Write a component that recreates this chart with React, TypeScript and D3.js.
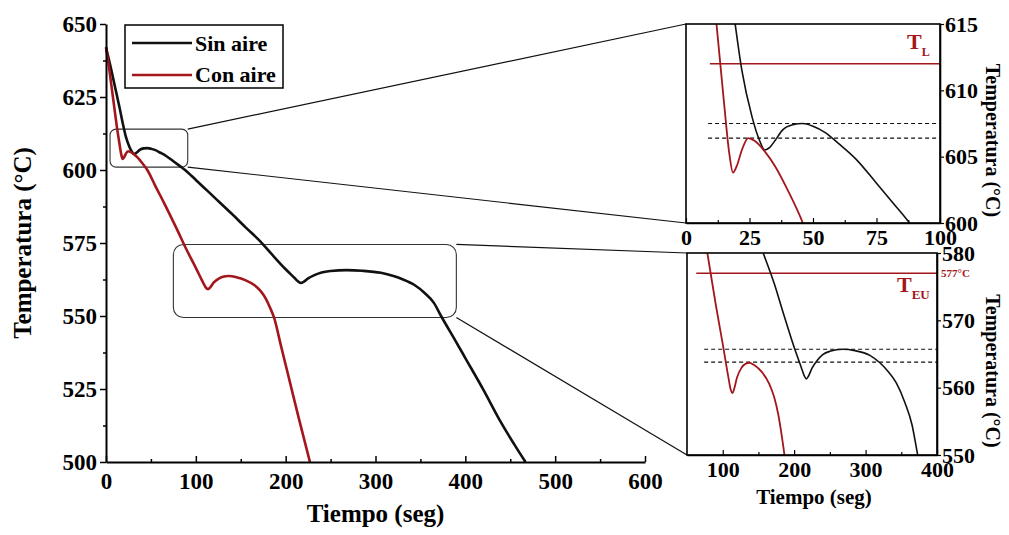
import { useEffect, useRef } from 'react'
import * as d3 from 'd3'

// Sin aire (black) cooling curve: time (s) / temperature (°C)
const sinAireTime = [0, 5, 10, 15, 19, 22, 26, 29, 31, 33, 35, 38, 42, 46, 50, 55, 60, 67, 75, 82, 88, 100, 120, 140, 156, 172, 185, 200, 210, 214, 217, 220, 225, 232, 240, 250, 268, 285, 306, 320, 330, 343, 355, 365, 373, 390, 400, 420, 440, 455, 467]
const sinAireTemp = [642, 635.5, 628.5, 621.5, 615.5, 611.5, 608, 606.2, 605.5, 605.7, 606.2, 607, 607.4, 607.5, 607.3, 606.8, 606, 604.8, 603, 601.4, 600, 596.6, 590.8, 585, 580.2, 575.5, 571, 566, 563, 561.8, 561.3, 561.7, 562.9, 564, 564.9, 565.4, 565.7, 565.5, 564.8, 563.7, 562.6, 560.7, 557.8, 554.5, 550, 541, 535.6, 524.8, 513.4, 505.8, 500]

// Con aire (red) cooling curve
const conAireTime = [0, 3, 6, 9, 12, 15, 17, 18.5, 20, 22, 24.5, 27, 31, 35, 40, 46, 55, 65, 78.5, 90, 100, 108, 111, 113.6, 116, 120, 126, 133, 137, 145, 155, 165, 172, 178, 183, 187, 195, 205, 215, 227]
const conAireTemp = [642, 636, 629, 622, 615, 609, 605.3, 603.8, 604.3, 605.5, 606.4, 606.2, 605.4, 604.3, 602.5, 600, 594.5, 588.5, 580, 572.5, 566.5, 561.5, 559.8, 559.2, 559.8, 561.5, 562.9, 563.6, 563.7, 563.3, 562.3, 560.6, 558.6, 555.9, 552.6, 549.5, 539.5, 527, 514.5, 500]

const mainXTicks = [0, 100, 200, 300, 400, 500, 600]
const mainXMinor = [50, 150, 250, 350, 450, 550]
const mainYTicks = [500, 525, 550, 575, 600, 625, 650]
const mainYMinor = [512.5, 537.5, 562.5, 587.5, 612.5, 637.5]

const topXTicks = [0, 25, 50, 75, 100]
const topXMinor = [12.5, 37.5, 62.5, 87.5]
const topYTicks = [600, 605, 610, 615]
const bottomXTicks = [100, 200, 300, 400]
const bottomXMinor = [150, 250, 350]
const bottomYTicks = [550, 560, 570, 580]

const liquidusTemp = 612
const eutecticTemp = 577
const topDashed = [607.5, 606.4]
const bottomDashed = [565.7, 563.8]
// zoom windows drawn on the main chart: [t0, t1, T0, T1]
const zoomBox1 = [4.5, 91, 601, 614]
const zoomBox2 = [75, 390, 549.5, 574.5]

const RED = '#a3161b'
const FONT = '"Liberation Serif", "Times New Roman", serif'

export default function App() {
  const svgRef = useRef<SVGSVGElement>(null)

  useEffect(() => {
    if (!svgRef.current) return
    const svg = d3.select(svgRef.current)
    svg.selectAll('*').remove()

    const sin = sinAireTime.map((t, i) => [t, sinAireTemp[i]] as [number, number])
    const con = conAireTime.map((t, i) => [t, conAireTemp[i]] as [number, number])

    const styleAxis = (g: any, size: number, width = 2) => {
      g.select('.domain').attr('stroke', '#000').attr('stroke-width', width)
      g.selectAll('.tick line').attr('stroke', '#000').attr('stroke-width', width * 0.75)
      g.selectAll('.tick text')
        .attr('fill', '#000')
        .attr('font-family', FONT)
        .attr('font-weight', 'bold')
        .attr('font-size', size)
    }

    // ---------- main chart ----------
    const x = d3.scaleLinear().domain([0, 600]).range([106, 645])
    const y = d3.scaleLinear().domain([500, 650]).range([462, 24])

    const main = svg.append('g')

    // zoom boxes
    ;[zoomBox1, zoomBox2].forEach((b, i) => {
      main.append('rect')
        .attr('x', x(b[0])).attr('y', y(b[3]))
        .attr('width', x(b[1]) - x(b[0])).attr('height', y(b[2]) - y(b[3]))
        .attr('rx', i === 0 ? 6 : 10)
        .attr('fill', 'none').attr('stroke', '#333').attr('stroke-width', 1.1)
    })

    const line = d3.line<[number, number]>().x(d => x(d[0])).y(d => y(d[1])).curve(d3.curveMonotoneX)
    main.append('path').datum(sin).attr('d', line).attr('fill', 'none').attr('stroke', '#111').attr('stroke-width', 2.6)
    main.append('path').datum(con).attr('d', line).attr('fill', 'none').attr('stroke', RED).attr('stroke-width', 2.6)

    const gy = main.append('g').attr('transform', `translate(${x(0)},0)`)
      .call(d3.axisLeft(y).tickValues(mainYTicks).tickSize(6).tickSizeOuter(0).tickPadding(3))
    styleAxis(gy, 23)
    main.append('g').attr('transform', `translate(${x(0)},0)`)
      .call(d3.axisLeft(y).tickValues(mainYMinor).tickSize(3).tickFormat(() => ''))
      .call((g: any) => { g.select('.domain').remove(); g.selectAll('line').attr('stroke-width', 1.5) })

    const gx = main.append('g').attr('transform', `translate(0,${y(500)})`)
      .call(d3.axisBottom(x).tickValues(mainXTicks).tickSize(-6).tickSizeOuter(0).tickPadding(11))
    styleAxis(gx, 23)
    main.append('g').attr('transform', `translate(0,${y(500)})`)
      .call(d3.axisBottom(x).tickValues(mainXMinor).tickSize(-3).tickFormat(() => ''))
      .call((g: any) => { g.select('.domain').remove(); g.selectAll('line').attr('stroke-width', 1.5) })

    main.append('text')
      .attr('transform', `translate(31,${(y(500) + y(650)) / 2}) rotate(-90)`)
      .attr('text-anchor', 'middle')
      .attr('fill', '#000')
      .attr('font-family', FONT).attr('font-weight', 'bold').attr('font-size', 25)
      .text('Temperatura (°C)')
    main.append('text')
      .attr('x', (x(0) + x(600)) / 2).attr('y', 522)
      .attr('text-anchor', 'middle')
      .attr('font-family', FONT).attr('font-weight', 'bold').attr('font-size', 25)
      .text('Tiempo (seg)')

    // legend
    const leg = main.append('g')
    leg.append('rect').attr('x', 125).attr('y', 25).attr('width', 158).attr('height', 63)
      .attr('fill', '#fff').attr('stroke', '#000').attr('stroke-width', 1.5)
    ;[['Sin aire', '#111', 43, 51], ['Con aire', RED, 75, 82]].forEach(([label, color, ly, ty]) => {
      leg.append('line').attr('x1', 132).attr('x2', 192).attr('y1', ly).attr('y2', ly)
        .attr('stroke', color as string).attr('stroke-width', 2.6)
      leg.append('text').attr('x', 195).attr('y', ty)
        .attr('font-family', FONT).attr('font-weight', 'bold').attr('font-size', 22)
        .text(label as string)
    })

    // ---------- insets ----------
    const defs = svg.append('defs')

    const drawInset = (opts: any) => {
      const { id, xs, ys, xTicks, xMinor, yTicks, refTemp, dashed, refStart, dashStart, box } = opts
      const [x0, x1] = xs.range()
      const [y0, y1] = ys.range()
      const g = svg.append('g')

      // connector lines from the zoom box on the main chart
      g.append('line').attr('x1', x(box[1])).attr('y1', y(box[3])).attr('x2', x0).attr('y2', y1)
        .attr('stroke', '#111').attr('stroke-width', 1.2)
      g.append('line').attr('x1', x(box[1])).attr('y1', y(box[2])).attr('x2', x0).attr('y2', y0)
        .attr('stroke', '#111').attr('stroke-width', 1.2)

      defs.append('clipPath').attr('id', id).append('rect')
        .attr('x', x0).attr('y', y1).attr('width', x1 - x0).attr('height', y0 - y1)

      g.append('rect').attr('x', x0).attr('y', y1).attr('width', x1 - x0).attr('height', y0 - y1)
        .attr('fill', '#fff')

      const plot = g.append('g').attr('clip-path', `url(#${id})`)
      const l = d3.line<[number, number]>().x(d => xs(d[0])).y(d => ys(d[1])).curve(d3.curveMonotoneX)

      plot.append('line').attr('x1', xs(refStart)).attr('x2', x1).attr('y1', ys(refTemp)).attr('y2', ys(refTemp))
        .attr('stroke', RED).attr('stroke-width', 1.4)
      dashed.forEach((v: number) => {
        plot.append('line').attr('x1', xs(dashStart)).attr('x2', x1).attr('y1', ys(v)).attr('y2', ys(v))
          .attr('stroke', '#111').attr('stroke-width', 1.1).attr('stroke-dasharray', '4,3')
      })
      plot.append('path').datum(sin).attr('d', l).attr('fill', 'none').attr('stroke', '#111').attr('stroke-width', 1.6)
      plot.append('path').datum(con).attr('d', l).attr('fill', 'none').attr('stroke', RED).attr('stroke-width', 1.8)

      g.append('rect').attr('x', x0).attr('y', y1).attr('width', x1 - x0).attr('height', y0 - y1)
        .attr('fill', 'none').attr('stroke', '#000').attr('stroke-width', 1.6)

      const ay = g.append('g').attr('transform', `translate(${x1},0)`)
        .call(d3.axisRight(ys).tickValues(yTicks).tickSize(4).tickSizeOuter(0).tickPadding(1))
      styleAxis(ay, 22, 1.6)
      const ax = g.append('g').attr('transform', `translate(0,${y0})`)
        .call(d3.axisBottom(xs).tickValues(xTicks).tickSize(-5).tickSizeOuter(0).tickPadding(6))
      styleAxis(ax, 22, 1.6)
      g.append('g').attr('transform', `translate(0,${y0})`)
        .call(d3.axisBottom(xs).tickValues(xMinor).tickSize(-3).tickFormat(() => ''))
        .call((s: any) => { s.select('.domain').remove(); s.selectAll('line').attr('stroke-width', 1.2) })

      g.append('text')
        .attr('transform', `translate(986,${(y0 + y1) / 2 + 17}) rotate(90)`)
        .attr('text-anchor', 'middle')
        .attr('font-family', FONT).attr('font-weight', 'bold').attr('font-size', 20)
        .text('Temperatura (°C)')
      return g
    }

    const xTop = d3.scaleLinear().domain([0, 100]).range([686, 940])
    const yTop = d3.scaleLinear().domain([600, 615]).range([223, 24])
    const top = drawInset({
      id: 'clipTop', xs: xTop, ys: yTop, xTicks: topXTicks, xMinor: topXMinor, yTicks: topYTicks,
      refTemp: liquidusTemp, dashed: topDashed, refStart: 9.4, dashStart: 8.7, box: zoomBox1,
    })
    const tl = top.append('text').attr('x', 907).attr('y', 49)
      .attr('font-family', FONT).attr('font-weight', 'bold').attr('fill', RED).attr('font-size', 22)
    tl.append('tspan').text('T')
    tl.append('tspan').attr('font-size', 12).attr('dy', 7).text('L')

    const xBot = d3.scaleLinear().domain([50, 400]).range([687, 937])
    const yBot = d3.scaleLinear().domain([550, 580]).range([455, 253])
    const bot = drawInset({
      id: 'clipBot', xs: xBot, ys: yBot, xTicks: bottomXTicks, xMinor: bottomXMinor, yTicks: bottomYTicks,
      refTemp: eutecticTemp, dashed: bottomDashed, refStart: 63, dashStart: 74, box: zoomBox2,
    })
    const teu = bot.append('text').attr('x', 897).attr('y', 292)
      .attr('font-family', FONT).attr('font-weight', 'bold').attr('fill', RED).attr('font-size', 22)
    teu.append('tspan').text('T')
    teu.append('tspan').attr('font-size', 13).attr('dy', 7).text('EU')
    bot.append('text').attr('x', 941).attr('y', yBot(eutecticTemp) + 4)
      .attr('font-family', FONT).attr('font-weight', 'bold').attr('fill', RED).attr('font-size', 11)
      .text('577°C')
    bot.append('text').attr('x', (xBot(50) + xBot(400)) / 2 + 2).attr('y', 504)
      .attr('text-anchor', 'middle')
      .attr('font-family', FONT).attr('font-weight', 'bold').attr('font-size', 21)
      .text('Tiempo (seg)')
  }, [])

  return (
    <svg ref={svgRef} width={1009} height={535}
      style={{ position: 'absolute', left: 0, top: 0, background: '#fff' }} />
  )
}
